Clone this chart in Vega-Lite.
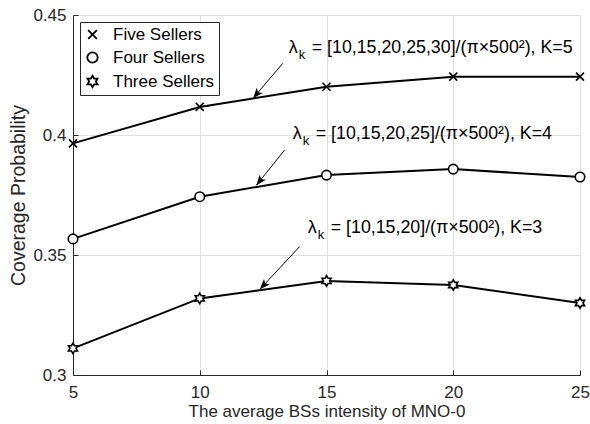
{
  "$schema": "https://vega.github.io/schema/vega-lite/v6.json",
  "width": 507,
  "height": 360,
  "autosize": {"type": "none"},
  "padding": {"left": 73, "top": 15, "right": 10, "bottom": 49},
  "background": "white",
  "config": {
    "font": "Liberation Sans",
    "view": {"stroke": null},
    "axis": {
      "grid": true,
      "gridColor": "#e0e0e0",
      "gridWidth": 1,
      "domainColor": "#262626",
      "domainWidth": 1,
      "tickColor": "#262626",
      "tickSize": -5,
      "labelColor": "#262626",
      "titleColor": "#262626",
      "labelFontSize": 17,
      "titleFontSize": 17,
      "titleFontWeight": "normal",
      "labelFlush": false,
      "labelOverlap": false,
      "labelBound": false
    }
  },
  "datasets": {
    "coverage": [
      {"series": "Five Sellers", "intensity": 5, "prob": 0.3965},
      {"series": "Five Sellers", "intensity": 10, "prob": 0.4117},
      {"series": "Five Sellers", "intensity": 15, "prob": 0.4201},
      {"series": "Five Sellers", "intensity": 20, "prob": 0.4243},
      {"series": "Five Sellers", "intensity": 25, "prob": 0.4243},
      {"series": "Four Sellers", "intensity": 5, "prob": 0.3567},
      {"series": "Four Sellers", "intensity": 10, "prob": 0.3743},
      {"series": "Four Sellers", "intensity": 15, "prob": 0.3833},
      {"series": "Four Sellers", "intensity": 20, "prob": 0.3858},
      {"series": "Four Sellers", "intensity": 25, "prob": 0.3825},
      {"series": "Three Sellers", "intensity": 5, "prob": 0.3111},
      {"series": "Three Sellers", "intensity": 10, "prob": 0.3319},
      {"series": "Three Sellers", "intensity": 15, "prob": 0.3392},
      {"series": "Three Sellers", "intensity": 20, "prob": 0.3375},
      {"series": "Three Sellers", "intensity": 25, "prob": 0.3300}
    ],
    "notes": [
      {"nx": 13.51, "ny": 0.4342, "label": "= [10,15,20,25,30]/(π×500²), K=5"},
      {"nx": 13.67, "ny": 0.3983, "label": "= [10,15,20,25]/(π×500²), K=4"},
      {"nx": 14.26, "ny": 0.3592, "label": "= [10,15,20]/(π×500²), K=3"}
    ],
    "arrows": [
      {"x1": 13.28, "y1": 0.4299, "x2": 12.10, "y2": 0.4153},
      {"x1": 13.35, "y1": 0.3938, "x2": 12.23, "y2": 0.3790},
      {"x1": 13.94, "y1": 0.3535, "x2": 12.37, "y2": 0.3357}
    ]
  },
  "layer": [
    {
      "data": {"name": "coverage"},
      "mark": {"type": "line", "color": "black", "strokeWidth": 2},
      "encoding": {
        "x": {
          "field": "intensity", "type": "quantitative",
          "scale": {"domain": [5, 25], "nice": false, "zero": false},
          "axis": {"values": [5, 10, 15, 20, 25], "title": "The average BSs intensity of MNO-0", "labelPadding": 14, "titlePadding": 3}
        },
        "y": {
          "field": "prob", "type": "quantitative",
          "scale": {"domain": [0.3, 0.45], "nice": false, "zero": false},
          "axis": {"values": [0.3, 0.35, 0.4, 0.45], "format": ".2~f", "title": "Coverage Probability", "titleFontSize": 19.5, "labelPadding": 12, "titlePadding": 4}
        },
        "detail": {"field": "series"}
      }
    },
    {
      "data": {"name": "coverage"},
      "mark": {"type": "point", "filled": true, "fill": "white", "stroke": "black", "strokeWidth": 1.6, "opacity": 1, "size": 100},
      "encoding": {
        "x": {"field": "intensity", "type": "quantitative"},
        "y": {"field": "prob", "type": "quantitative"},
        "shape": {
          "field": "series", "type": "nominal",
          "scale": {
            "domain": ["Five Sellers", "Four Sellers", "Three Sellers"],
            "range": [
              "M-0.8,-0.8L0.8,0.8M-0.8,0.8L0.8,-0.8",
              "M-0.95,0A0.95,0.95 0 1,0 0.95,0A0.95,0.95 0 1,0 -0.95,0Z",
              "M0,-1.05L0.303,-0.525L0.909,-0.525L0.606,0L0.909,0.525L0.303,0.525L0,1.05L-0.303,0.525L-0.909,0.525L-0.606,0L-0.909,-0.525L-0.303,-0.525Z"
            ]
          },
          "legend": {
            "title": null,
            "orient": "none",
            "legendX": 7,
            "legendY": 7,
            "direction": "vertical",
            "padding": 4,
            "fillColor": "white",
            "strokeColor": "#262626",
            "cornerRadius": 0,
            "symbolSize": 120,
            "symbolStrokeWidth": 1.8,
            "labelFontSize": 17,
            "labelColor": "black",
            "labelOffset": 12,
            "rowPadding": 5
          }
        }
      }
    },
    {
      "data": {"name": "arrows"},
      "mark": {"type": "rule", "color": "black", "strokeWidth": 1},
      "encoding": {
        "x": {"field": "x1", "type": "quantitative"},
        "y": {"field": "y1", "type": "quantitative"},
        "x2": {"field": "x2"},
        "y2": {"field": "y2"}
      }
    },
    {
      "data": {"name": "arrows"},
      "transform": [
        {"calculate": "atan2((datum.x2 - datum.x1) * 507 / 20, (datum.y2 - datum.y1) * 360 / 0.15) * 180 / PI", "as": "heading"}
      ],
      "mark": {"type": "point", "filled": true, "color": "black", "opacity": 1, "size": 64, "shape": "M0,0L1,2.6L0,2L-1,2.6Z"},
      "encoding": {
        "x": {"field": "x2", "type": "quantitative"},
        "y": {"field": "y2", "type": "quantitative"},
        "angle": {"field": "heading", "type": "quantitative", "scale": null}
      }
    },
    {
      "data": {"name": "notes"},
      "mark": {"type": "text", "text": "λ", "fontSize": 18, "align": "left", "baseline": "alphabetic", "fill": "black", "color": "black"},
      "encoding": {
        "x": {"field": "nx", "type": "quantitative"},
        "y": {"field": "ny", "type": "quantitative"}
      }
    },
    {
      "data": {"name": "notes"},
      "mark": {"type": "text", "text": "k", "fontSize": 13, "align": "left", "baseline": "alphabetic", "dx": 10, "dy": 6, "fill": "#000000", "color": "#000000"},
      "encoding": {
        "x": {"field": "nx", "type": "quantitative"},
        "y": {"field": "ny", "type": "quantitative"}
      }
    },
    {
      "data": {"name": "notes"},
      "mark": {"type": "text", "fontSize": 17.8, "align": "left", "baseline": "alphabetic", "dx": 23, "fill": "black", "color": "black"},
      "encoding": {
        "x": {"field": "nx", "type": "quantitative"},
        "y": {"field": "ny", "type": "quantitative"},
        "text": {"field": "label"}
      }
    }
  ]
}
